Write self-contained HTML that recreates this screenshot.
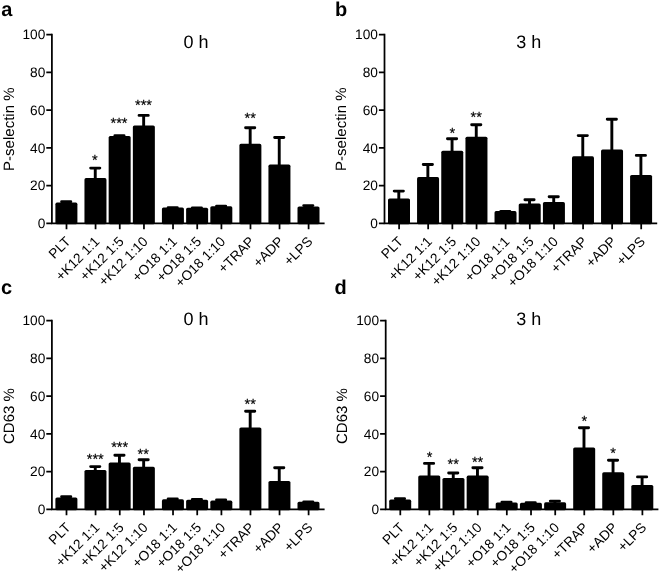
<!DOCTYPE html>
<html lang="en">
<head>
<meta charset="utf-8">
<title>Platelet activation figure</title>
<style>
html,body{margin:0;padding:0;background:#fff;}
body{width:660px;height:572px;overflow:hidden;}
svg{display:block;will-change:transform;font-family:'Liberation Sans', Arial, Helvetica, sans-serif;fill:#000;}
svg text{fill:#000;text-rendering:geometricPrecision;}
.ax{stroke:#000;stroke-width:1.75;fill:none;}
.s{stroke:#000;stroke-width:0.18;}
.e{stroke:#000;stroke-width:2.9;fill:none;stroke-linecap:round;}
</style>
</head>
<body>
<svg width="660" height="572" viewBox="0 0 660 572">
<rect width="660" height="572" fill="#fff"/>
<g transform="translate(0,0)">
<text x="1.2" y="16" font-size="20" font-weight="bold">a</text>
<text x="195.9" y="47.6" font-size="18" text-anchor="middle">0 h</text>
<text transform="translate(14,129.2) rotate(-90)" font-size="15" text-anchor="middle">P-selectin %</text>
<rect x="55.4" y="202.6" width="22" height="21.65" rx="1.6"/>
<path d="M66.2 204.1V201.7M61.6 201.7H70.8" class="e"/>
<rect x="84.46" y="178.1" width="22" height="46.15" rx="1.6"/>
<path d="M95.26 179.6V168.1M90.66 168.1H99.86" class="e"/>
<rect x="108.66" y="136" width="22" height="88.25" rx="1.6"/>
<path d="M119.46 137.5V135.6M114.86 135.6H124.06" class="e"/>
<rect x="132.86" y="125.5" width="22" height="98.75" rx="1.6"/>
<path d="M143.66 127V115.4M139.06 115.4H148.26" class="e"/>
<rect x="161.92" y="207.5" width="22" height="16.75" rx="1.6"/>
<path d="M172.72 209V207.8M168.12 207.8H177.32" class="e"/>
<rect x="186.12" y="207.7" width="22" height="16.55" rx="1.6"/>
<path d="M196.92 209.2V208M192.32 208H201.52" class="e"/>
<rect x="210.32" y="206.2" width="22" height="18.05" rx="1.6"/>
<path d="M221.12 207.7V206.3M216.52 206.3H225.72" class="e"/>
<rect x="239.38" y="143.8" width="22" height="80.45" rx="1.6"/>
<path d="M250.18 145.3V127.7M245.58 127.7H254.78" class="e"/>
<rect x="268.44" y="164.6" width="22" height="59.65" rx="1.6"/>
<path d="M279.24 166.1V137.5M274.64 137.5H283.84" class="e"/>
<rect x="297.5" y="206.5" width="22" height="17.75" rx="1.6"/>
<path d="M308.3 208V205.6M303.7 205.6H312.9" class="e"/>
<path d="M51.9 33.73V224.32M51.03 223.45H324.6" class="ax"/>
<text x="45.3" y="39.3" font-size="13.7" text-anchor="end">100</text>
<text x="45.3" y="77.07" font-size="13.7" text-anchor="end">80</text>
<text x="45.3" y="114.84" font-size="13.7" text-anchor="end">60</text>
<text x="45.3" y="152.61" font-size="13.7" text-anchor="end">40</text>
<text x="45.3" y="190.38" font-size="13.7" text-anchor="end">20</text>
<text x="45.3" y="228.15" font-size="13.7" text-anchor="end">0</text>
<path d="M46.3 34.6H51.9M46.3 72.37H51.9M46.3 110.14H51.9M46.3 147.91H51.9M46.3 185.68H51.9M46.3 223.45H51.9M66.5 223.45V229.15M95.56 223.45V229.15M119.76 223.45V229.15M143.96 223.45V229.15M173.02 223.45V229.15M197.22 223.45V229.15M221.42 223.45V229.15M250.48 223.45V229.15M279.54 223.45V229.15M308.6 223.45V229.15" class="ax"/>
<text transform="translate(71.3,242.4) rotate(-45)" font-size="13.7" text-anchor="end">PLT</text>
<text transform="translate(100.36,242.4) rotate(-45)" font-size="13.7" text-anchor="end">+K12 1:1</text>
<text transform="translate(124.56,242.4) rotate(-45)" font-size="13.7" text-anchor="end">+K12 1:5</text>
<text transform="translate(148.76,242.4) rotate(-45)" font-size="13.7" text-anchor="end">+K12 1:10</text>
<text transform="translate(177.82,242.4) rotate(-45)" font-size="13.7" text-anchor="end">+O18 1:1</text>
<text transform="translate(202.02,242.4) rotate(-45)" font-size="13.7" text-anchor="end">+O18 1:5</text>
<text transform="translate(226.22,242.4) rotate(-45)" font-size="13.7" text-anchor="end">+O18 1:10</text>
<text transform="translate(255.28,242.4) rotate(-45)" font-size="13.7" text-anchor="end">+TRAP</text>
<text transform="translate(284.34,242.4) rotate(-45)" font-size="13.7" text-anchor="end">+ADP</text>
<text transform="translate(313.4,242.4) rotate(-45)" font-size="13.7" text-anchor="end">+LPS</text>
<text x="94.8" y="164.9" font-size="14.6" text-anchor="middle" class="s">*</text>
<text x="119" y="128.2" font-size="14.6" text-anchor="middle" class="s">***</text>
<text x="143.5" y="110.1" font-size="14.6" text-anchor="middle" class="s">***</text>
<text x="250.2" y="123.3" font-size="14.6" text-anchor="middle" class="s">**</text>
</g>
<g transform="translate(332.6,0)">
<text x="2.4" y="16" font-size="20" font-weight="bold">b</text>
<text x="196.05" y="47.6" font-size="18" text-anchor="middle">3 h</text>
<text transform="translate(13.5,129.2) rotate(-90)" font-size="15" text-anchor="middle">P-selectin %</text>
<rect x="55.4" y="198.4" width="22" height="25.85" rx="1.6"/>
<path d="M66.2 199.9V191.1M61.6 191.1H70.8" class="e"/>
<rect x="84.46" y="177.1" width="22" height="47.15" rx="1.6"/>
<path d="M95.26 178.6V164.5M90.66 164.5H99.86" class="e"/>
<rect x="108.66" y="150.7" width="22" height="73.55" rx="1.6"/>
<path d="M119.46 152.2V138.8M114.86 138.8H124.06" class="e"/>
<rect x="132.86" y="136.7" width="22" height="87.55" rx="1.6"/>
<path d="M143.66 138.2V124.8M139.06 124.8H148.26" class="e"/>
<rect x="161.92" y="211.1" width="22" height="13.15" rx="1.6"/>
<path d="M172.72 212.6V211.5M168.12 211.5H177.32" class="e"/>
<rect x="186.12" y="203.5" width="22" height="20.75" rx="1.6"/>
<path d="M196.92 205V199.7M192.32 199.7H201.52" class="e"/>
<rect x="210.32" y="202.1" width="22" height="22.15" rx="1.6"/>
<path d="M221.12 203.6V196.8M216.52 196.8H225.72" class="e"/>
<rect x="239.38" y="156.3" width="22" height="67.95" rx="1.6"/>
<path d="M250.18 157.8V135.6M245.58 135.6H254.78" class="e"/>
<rect x="268.44" y="149.5" width="22" height="74.75" rx="1.6"/>
<path d="M279.24 151V119.2M274.64 119.2H283.84" class="e"/>
<rect x="297.5" y="174.9" width="22" height="49.35" rx="1.6"/>
<path d="M308.3 176.4V155.4M303.7 155.4H312.9" class="e"/>
<path d="M51.9 33.73V224.32M51.03 223.45H324.6" class="ax"/>
<text x="45.3" y="39.3" font-size="13.7" text-anchor="end">100</text>
<text x="45.3" y="77.07" font-size="13.7" text-anchor="end">80</text>
<text x="45.3" y="114.84" font-size="13.7" text-anchor="end">60</text>
<text x="45.3" y="152.61" font-size="13.7" text-anchor="end">40</text>
<text x="45.3" y="190.38" font-size="13.7" text-anchor="end">20</text>
<text x="45.3" y="228.15" font-size="13.7" text-anchor="end">0</text>
<path d="M46.3 34.6H51.9M46.3 72.37H51.9M46.3 110.14H51.9M46.3 147.91H51.9M46.3 185.68H51.9M46.3 223.45H51.9M66.5 223.45V229.15M95.56 223.45V229.15M119.76 223.45V229.15M143.96 223.45V229.15M173.02 223.45V229.15M197.22 223.45V229.15M221.42 223.45V229.15M250.48 223.45V229.15M279.54 223.45V229.15M308.6 223.45V229.15" class="ax"/>
<text transform="translate(71.3,242.4) rotate(-45)" font-size="13.7" text-anchor="end">PLT</text>
<text transform="translate(100.36,242.4) rotate(-45)" font-size="13.7" text-anchor="end">+K12 1:1</text>
<text transform="translate(124.56,242.4) rotate(-45)" font-size="13.7" text-anchor="end">+K12 1:5</text>
<text transform="translate(148.76,242.4) rotate(-45)" font-size="13.7" text-anchor="end">+K12 1:10</text>
<text transform="translate(177.82,242.4) rotate(-45)" font-size="13.7" text-anchor="end">+O18 1:1</text>
<text transform="translate(202.02,242.4) rotate(-45)" font-size="13.7" text-anchor="end">+O18 1:5</text>
<text transform="translate(226.22,242.4) rotate(-45)" font-size="13.7" text-anchor="end">+O18 1:10</text>
<text transform="translate(255.28,242.4) rotate(-45)" font-size="13.7" text-anchor="end">+TRAP</text>
<text transform="translate(284.34,242.4) rotate(-45)" font-size="13.7" text-anchor="end">+ADP</text>
<text transform="translate(313.4,242.4) rotate(-45)" font-size="13.7" text-anchor="end">+LPS</text>
<text x="119.8" y="137.5" font-size="14.6" text-anchor="middle" class="s">*</text>
<text x="143.7" y="122.1" font-size="14.6" text-anchor="middle" class="s">**</text>
</g>
<g transform="translate(0,286)">
<text x="0.9" y="7.5" font-size="20" font-weight="bold">c</text>
<text x="195.9" y="38.6" font-size="18" text-anchor="middle">0 h</text>
<text transform="translate(14,130.1) rotate(-90)" font-size="15" text-anchor="middle">CD63 %</text>
<rect x="55.4" y="211.4" width="22" height="12.85" rx="1.6"/>
<path d="M66.2 212.9V210.7M61.6 210.7H70.8" class="e"/>
<rect x="84.46" y="184" width="22" height="40.25" rx="1.6"/>
<path d="M95.26 185.5V180.6M90.66 180.6H99.86" class="e"/>
<rect x="108.66" y="176.4" width="22" height="47.85" rx="1.6"/>
<path d="M119.46 177.9V169.3M114.86 169.3H124.06" class="e"/>
<rect x="132.86" y="180.8" width="22" height="43.45" rx="1.6"/>
<path d="M143.66 182.3V173.8M139.06 173.8H148.26" class="e"/>
<rect x="161.92" y="213.3" width="22" height="10.95" rx="1.6"/>
<path d="M172.72 214.8V212.9M168.12 212.9H177.32" class="e"/>
<rect x="186.12" y="213.8" width="22" height="10.45" rx="1.6"/>
<path d="M196.92 215.3V213.4M192.32 213.4H201.52" class="e"/>
<rect x="210.32" y="214.6" width="22" height="9.65" rx="1.6"/>
<path d="M221.12 216.1V213.9M216.52 213.9H225.72" class="e"/>
<rect x="239.38" y="141.4" width="22" height="82.85" rx="1.6"/>
<path d="M250.18 142.9V125.3M245.58 125.3H254.78" class="e"/>
<rect x="268.44" y="195" width="22" height="29.25" rx="1.6"/>
<path d="M279.24 196.5V181.8M274.64 181.8H283.84" class="e"/>
<rect x="297.5" y="215.8" width="22" height="8.45" rx="1.6"/>
<path d="M308.3 217.3V215.9M303.7 215.9H312.9" class="e"/>
<path d="M51.9 33.73V224.32M51.03 223.45H324.6" class="ax"/>
<text x="45.3" y="39.3" font-size="13.7" text-anchor="end">100</text>
<text x="45.3" y="77.07" font-size="13.7" text-anchor="end">80</text>
<text x="45.3" y="114.84" font-size="13.7" text-anchor="end">60</text>
<text x="45.3" y="152.61" font-size="13.7" text-anchor="end">40</text>
<text x="45.3" y="190.38" font-size="13.7" text-anchor="end">20</text>
<text x="45.3" y="228.15" font-size="13.7" text-anchor="end">0</text>
<path d="M46.3 34.6H51.9M46.3 72.37H51.9M46.3 110.14H51.9M46.3 147.91H51.9M46.3 185.68H51.9M46.3 223.45H51.9M66.5 223.45V229.15M95.56 223.45V229.15M119.76 223.45V229.15M143.96 223.45V229.15M173.02 223.45V229.15M197.22 223.45V229.15M221.42 223.45V229.15M250.48 223.45V229.15M279.54 223.45V229.15M308.6 223.45V229.15" class="ax"/>
<text transform="translate(71.3,242.4) rotate(-45)" font-size="13.7" text-anchor="end">PLT</text>
<text transform="translate(100.36,242.4) rotate(-45)" font-size="13.7" text-anchor="end">+K12 1:1</text>
<text transform="translate(124.56,242.4) rotate(-45)" font-size="13.7" text-anchor="end">+K12 1:5</text>
<text transform="translate(148.76,242.4) rotate(-45)" font-size="13.7" text-anchor="end">+K12 1:10</text>
<text transform="translate(177.82,242.4) rotate(-45)" font-size="13.7" text-anchor="end">+O18 1:1</text>
<text transform="translate(202.02,242.4) rotate(-45)" font-size="13.7" text-anchor="end">+O18 1:5</text>
<text transform="translate(226.22,242.4) rotate(-45)" font-size="13.7" text-anchor="end">+O18 1:10</text>
<text transform="translate(255.28,242.4) rotate(-45)" font-size="13.7" text-anchor="end">+TRAP</text>
<text transform="translate(284.34,242.4) rotate(-45)" font-size="13.7" text-anchor="end">+ADP</text>
<text transform="translate(313.4,242.4) rotate(-45)" font-size="13.7" text-anchor="end">+LPS</text>
<text x="95.3" y="178.4" font-size="14.6" text-anchor="middle" class="s">***</text>
<text x="119.7" y="165.9" font-size="14.6" text-anchor="middle" class="s">***</text>
<text x="143.3" y="173" font-size="14.6" text-anchor="middle" class="s">**</text>
<text x="250.2" y="123.1" font-size="14.6" text-anchor="middle" class="s">**</text>
</g>
<g transform="translate(333.8,286)">
<text x="0.6" y="7.5" font-size="20" font-weight="bold">d</text>
<text x="194.85" y="38.6" font-size="18" text-anchor="middle">3 h</text>
<text transform="translate(13,130.1) rotate(-90)" font-size="15" text-anchor="middle">CD63 %</text>
<rect x="55.4" y="213.6" width="22" height="10.65" rx="1.6"/>
<path d="M66.2 215.1V212.7M61.6 212.7H70.8" class="e"/>
<rect x="84.46" y="189.4" width="22" height="34.85" rx="1.6"/>
<path d="M95.26 190.9V177.4M90.66 177.4H99.86" class="e"/>
<rect x="108.66" y="192" width="22" height="32.25" rx="1.6"/>
<path d="M119.46 193.5V187M114.86 187H124.06" class="e"/>
<rect x="132.86" y="189.6" width="22" height="34.65" rx="1.6"/>
<path d="M143.66 191.1V181.8M139.06 181.8H148.26" class="e"/>
<rect x="161.92" y="216.5" width="22" height="7.75" rx="1.6"/>
<path d="M172.72 218V216.3M168.12 216.3H177.32" class="e"/>
<rect x="186.12" y="216.8" width="22" height="7.45" rx="1.6"/>
<path d="M196.92 218.3V216.6M192.32 216.6H201.52" class="e"/>
<rect x="210.32" y="216.3" width="22" height="7.95" rx="1.6"/>
<path d="M221.12 217.8V215.1M216.52 215.1H225.72" class="e"/>
<rect x="239.38" y="161.5" width="22" height="62.75" rx="1.6"/>
<path d="M250.18 163V141.7M245.58 141.7H254.78" class="e"/>
<rect x="268.44" y="186.2" width="22" height="38.05" rx="1.6"/>
<path d="M279.24 187.7V174.2M274.64 174.2H283.84" class="e"/>
<rect x="297.5" y="198.9" width="22" height="25.35" rx="1.6"/>
<path d="M308.3 200.4V190.9M303.7 190.9H312.9" class="e"/>
<path d="M51.9 33.73V224.32M51.03 223.45H324.6" class="ax"/>
<text x="45.3" y="39.3" font-size="13.7" text-anchor="end">100</text>
<text x="45.3" y="77.07" font-size="13.7" text-anchor="end">80</text>
<text x="45.3" y="114.84" font-size="13.7" text-anchor="end">60</text>
<text x="45.3" y="152.61" font-size="13.7" text-anchor="end">40</text>
<text x="45.3" y="190.38" font-size="13.7" text-anchor="end">20</text>
<text x="45.3" y="228.15" font-size="13.7" text-anchor="end">0</text>
<path d="M46.3 34.6H51.9M46.3 72.37H51.9M46.3 110.14H51.9M46.3 147.91H51.9M46.3 185.68H51.9M46.3 223.45H51.9M66.5 223.45V229.15M95.56 223.45V229.15M119.76 223.45V229.15M143.96 223.45V229.15M173.02 223.45V229.15M197.22 223.45V229.15M221.42 223.45V229.15M250.48 223.45V229.15M279.54 223.45V229.15M308.6 223.45V229.15" class="ax"/>
<text transform="translate(71.3,242.4) rotate(-45)" font-size="13.7" text-anchor="end">PLT</text>
<text transform="translate(100.36,242.4) rotate(-45)" font-size="13.7" text-anchor="end">+K12 1:1</text>
<text transform="translate(124.56,242.4) rotate(-45)" font-size="13.7" text-anchor="end">+K12 1:5</text>
<text transform="translate(148.76,242.4) rotate(-45)" font-size="13.7" text-anchor="end">+K12 1:10</text>
<text transform="translate(177.82,242.4) rotate(-45)" font-size="13.7" text-anchor="end">+O18 1:1</text>
<text transform="translate(202.02,242.4) rotate(-45)" font-size="13.7" text-anchor="end">+O18 1:5</text>
<text transform="translate(226.22,242.4) rotate(-45)" font-size="13.7" text-anchor="end">+O18 1:10</text>
<text transform="translate(255.28,242.4) rotate(-45)" font-size="13.7" text-anchor="end">+TRAP</text>
<text transform="translate(284.34,242.4) rotate(-45)" font-size="13.7" text-anchor="end">+ADP</text>
<text transform="translate(313.4,242.4) rotate(-45)" font-size="13.7" text-anchor="end">+LPS</text>
<text x="95.9" y="176.4" font-size="14.6" text-anchor="middle" class="s">*</text>
<text x="119.4" y="182.5" font-size="14.6" text-anchor="middle" class="s">**</text>
<text x="143.8" y="180.8" font-size="14.6" text-anchor="middle" class="s">**</text>
<text x="250.6" y="139.7" font-size="14.6" text-anchor="middle" class="s">*</text>
<text x="279.4" y="172.2" font-size="14.6" text-anchor="middle" class="s">*</text>
</g>
</svg>
</body>
</html>
